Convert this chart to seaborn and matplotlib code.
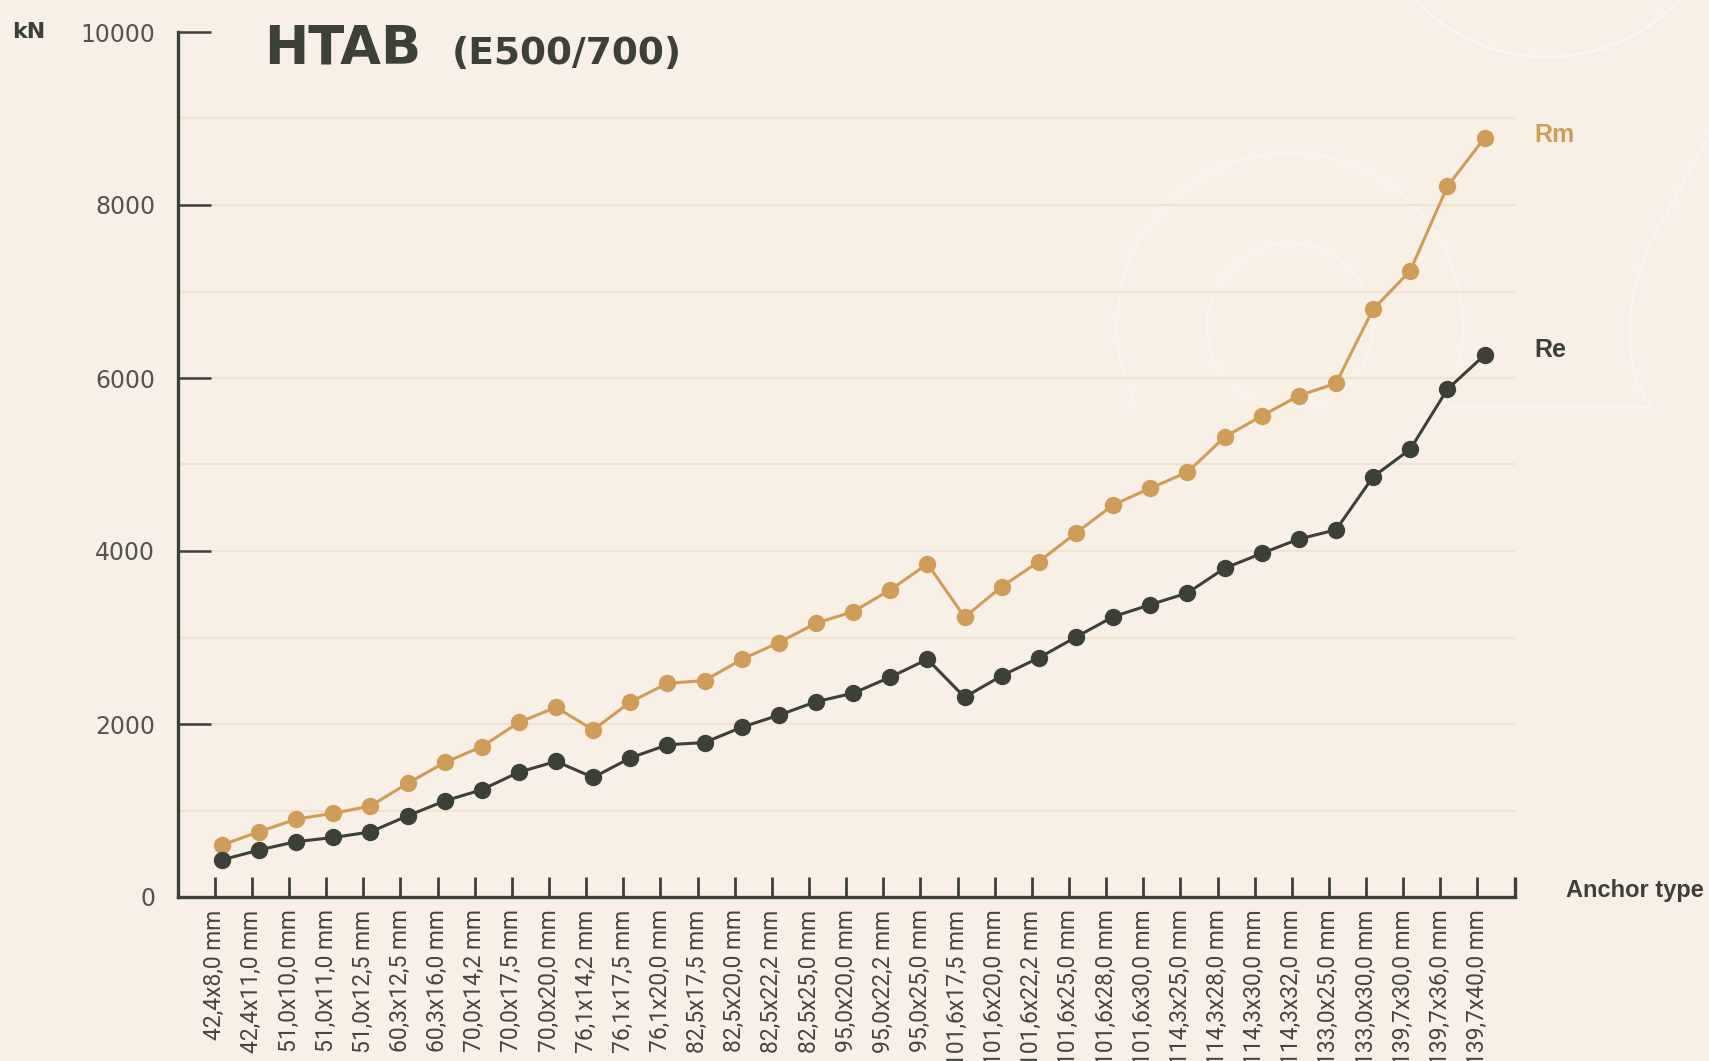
import numpy as np
import pandas as pd
import matplotlib
matplotlib.use("Agg")
import matplotlib.pyplot as plt
import seaborn as sns
from matplotlib.patches import Circle, PathPatch, Rectangle
from matplotlib.path import Path

# ---------------- data ----------------
categories = [
    "42,4x8,0 mm", "42,4x11,0 mm", "51,0x10,0 mm", "51,0x11,0 mm", "51,0x12,5 mm",
    "60,3x12,5 mm", "60,3x16,0 mm", "70,0x14,2 mm", "70,0x17,5 mm", "70,0x20,0 mm",
    "76,1x14,2 mm", "76,1x17,5 mm", "76,1x20,0 mm", "82,5x17,5 mm", "82,5x20,0 mm",
    "82,5x22,2 mm", "82,5x25,0 mm", "95,0x20,0 mm", "95,0x22,2 mm", "95,0x25,0 mm",
    "101,6x17,5 mm", "101,6x20,0 mm", "101,6x22,2 mm", "101,6x25,0 mm", "101,6x28,0 mm",
    "101,6x30,0 mm", "114,3x25,0 mm", "114,3x28,0 mm", "114,3x30,0 mm", "114,3x32,0 mm",
    "133,0x25,0 mm", "133,0x30,0 mm", "139,7x30,0 mm", "139,7x36,0 mm", "139,7x40,0 mm",
]
rm_values = [600, 755, 900, 968, 1052, 1313, 1555, 1738, 2019, 2193,
             1932, 2255, 2470, 2502, 2747, 2942, 3164, 3300, 3550, 3852,
             3235, 3588, 3878, 4208, 4533, 4726, 4912, 5316, 5562, 5795,
             5938, 6795, 7240, 8215, 8775]
re_values = [428, 543, 640, 688, 752, 938, 1110, 1240, 1443, 1568,
             1382, 1608, 1760, 1786, 1963, 2102, 2258, 2356, 2542, 2748,
             2310, 2558, 2765, 3005, 3240, 3380, 3515, 3800, 3973, 4138,
             4245, 4858, 5177, 5870, 6265]
series_names = ["Rm", "Re"]
y_ticks = [0, 2000, 4000, 6000, 8000, 10000]
grid_levels = [1000, 2000, 3000, 4000, 5000, 6000, 7000, 8000, 9000]
title_main = "HTAB"
title_sub = "(E500/700)"
y_unit = "kN"
x_title = "Anchor type"

# ---------------- style ----------------
BG = "#F8F0E6"
GOLD = "#CF9D57"
DARK = "#3D4037"
GRID = "#F2E3D1"
TEXT = "#45443F"
YTEXT = "#55544E"

sns.set_theme(style="white", rc={"axes.facecolor": "none", "figure.facecolor": BG,
                                 "xtick.bottom": True, "ytick.left": True})
plt.rcParams["font.family"] = ["DejaVu Sans"]

W, H = 1709, 1061
fig = plt.figure(figsize=(W / 100, H / 100), dpi=100, facecolor=BG)

# ---------------- background decoration ----------------
deco = fig.add_axes([0, 0, 1, 1], zorder=0)
deco.set_xlim(0, W)
deco.set_ylim(H, 0)
deco.axis("off")
clip = Rectangle((0, 0), W, 407, transform=deco.transData)
top_c = Circle((1547, -124), 181, fill=False, ec="white", lw=1.3, alpha=0.55)
deco.add_patch(top_c)
for r in (173, 83):
    c = Circle((1290, 326), r, fill=False, ec="white", lw=1.1, alpha=0.35)
    deco.add_patch(c)
    c.set_clip_path(clip)
verts = [(1712, 130), (1652, 240), (1625, 290), (1620, 370), (1652, 407), (1450, 407)]
codes = [Path.MOVETO, Path.LINETO, Path.CURVE4, Path.CURVE4, Path.CURVE4, Path.LINETO]
deco.add_patch(PathPatch(Path(verts, codes), fill=False, ec="white", lw=1.2, alpha=0.4))

# ---------------- main axes ----------------
ax = fig.add_axes([178 / W, 164 / H, (1515 - 178) / W, (897 - 32) / H], zorder=1)
ax.set_facecolor("none")

n = len(categories)
df = pd.DataFrame({
    "Anchor type": categories * 2,
    "kN": rm_values + re_values,
    "series": [series_names[0]] * n + [series_names[1]] * n,
})

ax.hlines(grid_levels, xmin=-1.18, xmax=34.82, colors=GRID, lw=1.6, zorder=0.5)

sns.lineplot(data=df, x="Anchor type", y="kN", hue="series",
             palette={"Rm": GOLD, "Re": DARK}, marker="o", markersize=12.5,
             markeredgewidth=0, linewidth=2.2, sort=False, legend=False, ax=ax,
             zorder=3)

ax.set_xlim(-1.18, 34.82)
ax.set_ylim(0, 10000)
ax.set_xlabel("")
ax.set_ylabel("")

ax.set_xticks(np.arange(n) - 0.19, labels=categories)
ax.set_xticks([34.82], minor=True)
ax.tick_params(axis="x", which="major", bottom=True, direction="in", length=14.4,
               width=2.0, color=DARK, pad=9, labelrotation=90, labelsize=16.5,
               labelcolor=TEXT)
ax.tick_params(axis="x", which="minor", bottom=True, direction="in", length=14.4,
               width=2.4, color=DARK)
for lab in ax.get_xticklabels():
    lab.set_fontfamily(["Roboto", "DejaVu Sans"])
    lab.set_fontweight("normal")

ax.set_yticks(y_ticks, labels=[str(v) for v in y_ticks])
ax.tick_params(axis="y", which="major", left=True, direction="in", length=23.8,
               width=1.8, color=DARK, pad=16.5, labelsize=17, labelcolor=YTEXT)
for lab in ax.get_yticklabels():
    lab.set_fontweight("normal")

for s in ("top", "right"):
    ax.spines[s].set_visible(False)
for s in ("left", "bottom"):
    ax.spines[s].set_color(DARK)
    ax.spines[s].set_linewidth(2.4)

# series end labels
ax.annotate(series_names[0], xy=(n - 1, rm_values[-1]), xytext=(36, 2),
            textcoords="offset points", va="center", ha="left",
            fontsize=18, fontweight="bold", color=GOLD,
            family=["Liberation Sans", "DejaVu Sans"])
ax.annotate(series_names[1], xy=(n - 1, re_values[-1]), xytext=(36, 4),
            textcoords="offset points", va="center", ha="left",
            fontsize=18, fontweight="bold", color=DARK,
            family=["Liberation Sans", "DejaVu Sans"])

# ---------------- texts ----------------
fig.text(264 / W, 1 - 64 / H, title_main, fontsize=38, fontweight="heavy",
         color=DARK, va="baseline", ha="left")
fig.text(452 / W, 1 - 64 / H, title_sub, fontsize=27, fontweight="heavy",
         color=DARK, va="baseline", ha="left")
fig.text(12 / W, 1 - 32 / H, y_unit, fontsize=16, fontweight="bold",
         color=DARK, va="center", ha="left")
fig.text(1566 / W, 1 - 891 / H, x_title, fontsize=17, fontweight="bold",
         color=DARK, va="center", ha="left", family=["Liberation Sans", "DejaVu Sans"])

fig.savefig("out.png", dpi=100, facecolor=BG)
